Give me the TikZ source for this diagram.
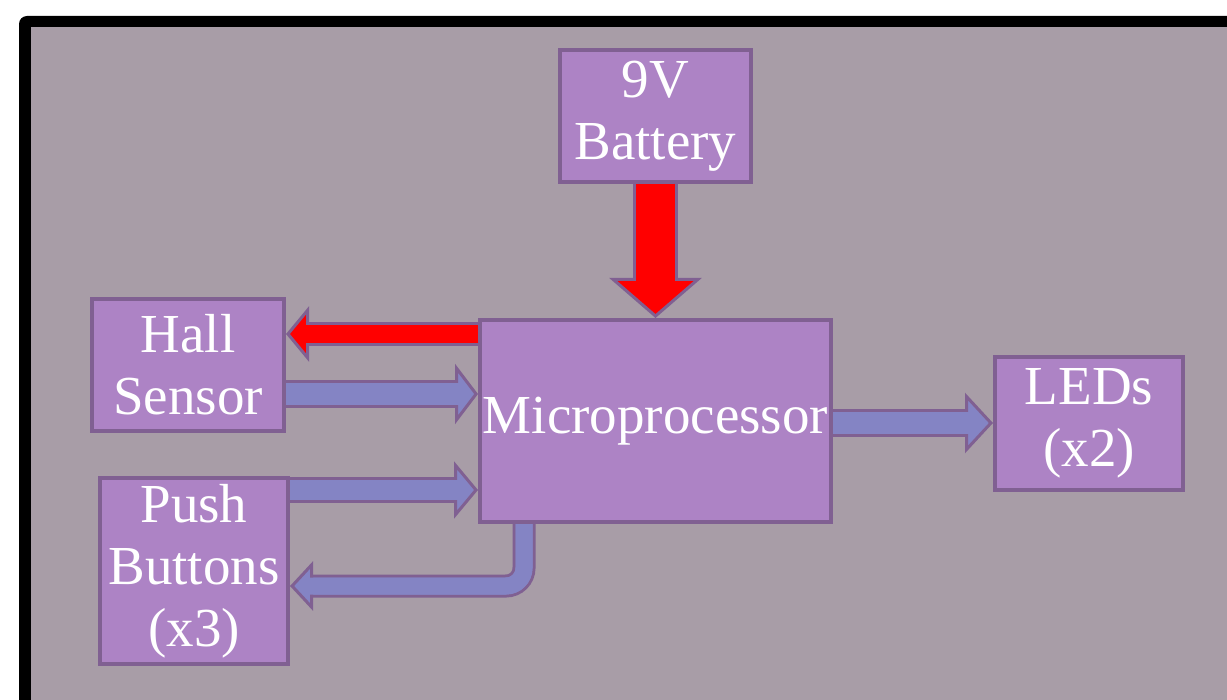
\documentclass[tikz,border=0pt]{standalone}
\usepackage{fontspec}
\setmainfont{Liberation Serif}
\usetikzlibrary{arrows.meta}

\definecolor{panelgray}{RGB}{168,157,167}
\definecolor{boxfill}{RGB}{173,131,197}
\definecolor{boxedge}{RGB}{128,96,146}
\definecolor{busblue}{RGB}{132,132,196}
\definecolor{busred}{RGB}{255,0,0}

\begin{document}
\begin{tikzpicture}[x=0.5pt, y=-0.5pt]
  \tikzset{blk/.style={draw=boxedge, line width=2pt, fill=boxfill, text=white, align=center, inner sep=0pt, font=\fontsize{27.5pt}{31pt}\selectfont}}
  \tikzset{pipe/.style n args={4}{line width=#2, draw=#1,
      preaction={draw=boxedge, line width=#2+3pt, -, shorten >=#4-2pt},
      postaction={draw=#1, line width=#2, -, shorten >=#4-3pt},
      -{Triangle[length=#4, width=#3, line width=1.5pt, fill=#1, color=boxedge]}}}

  \useasboundingbox (0,0) rectangle (1227,700);

  % Frame
  \begin{scope}
    \clip (0,0) rectangle (1227,700);
    \fill[black, rounded corners=4pt] (19,16) rectangle (1300,760);
    \fill[panelgray] (31,27) rectangle (1300,760);
  \end{scope}

  % Blocks
  \node[blk, minimum width=95.5pt, minimum height=66pt] (bat) at (655.5,116) {9V\\Battery};
  \node[blk, minimum width=96pt, minimum height=66pt] (hall) at (188,365) {Hall\\Sensor};
  \node[blk, minimum width=94pt, minimum height=93pt] (push) at (194,571) {Push\\Buttons\\(x3)};
  \node[blk, minimum width=175.5pt, minimum height=101pt] (mp) at (655.5,421) {Microprocessor};
  \node[blk, minimum width=94pt, minimum height=66.5pt] (leds) at (1089,423.5) {LEDs\\(x2)};

  % Power
  \draw[pipe={busred}{19.5pt}{46pt}{20pt}] (bat) -- (mp);
  \draw[pipe={busred}{9pt}{27.5pt}{11.5pt}] (mp.west |- 0,334) -- (hall.east |- 0,334);

  % Signals
  \draw[pipe={busblue}{11pt}{30pt}{11.5pt}] (hall.east |- 0,394) -- (mp.west |- 0,394);
  \draw[pipe={busblue}{10pt}{28.5pt}{12pt}] (push.east |- 0,490) -- (mp.west |- 0,490);
  \draw[pipe={busblue}{11pt}{30pt}{14pt}] (mp.east |- 0,423) -- (leds.west |- 0,423);
  \draw[pipe={busblue}{8.5pt}{24.5pt}{11.5pt}, rounded corners=9pt] (mp.south -| 524,0) |- (push.east |- 0,586);
\end{tikzpicture}
\end{document}
